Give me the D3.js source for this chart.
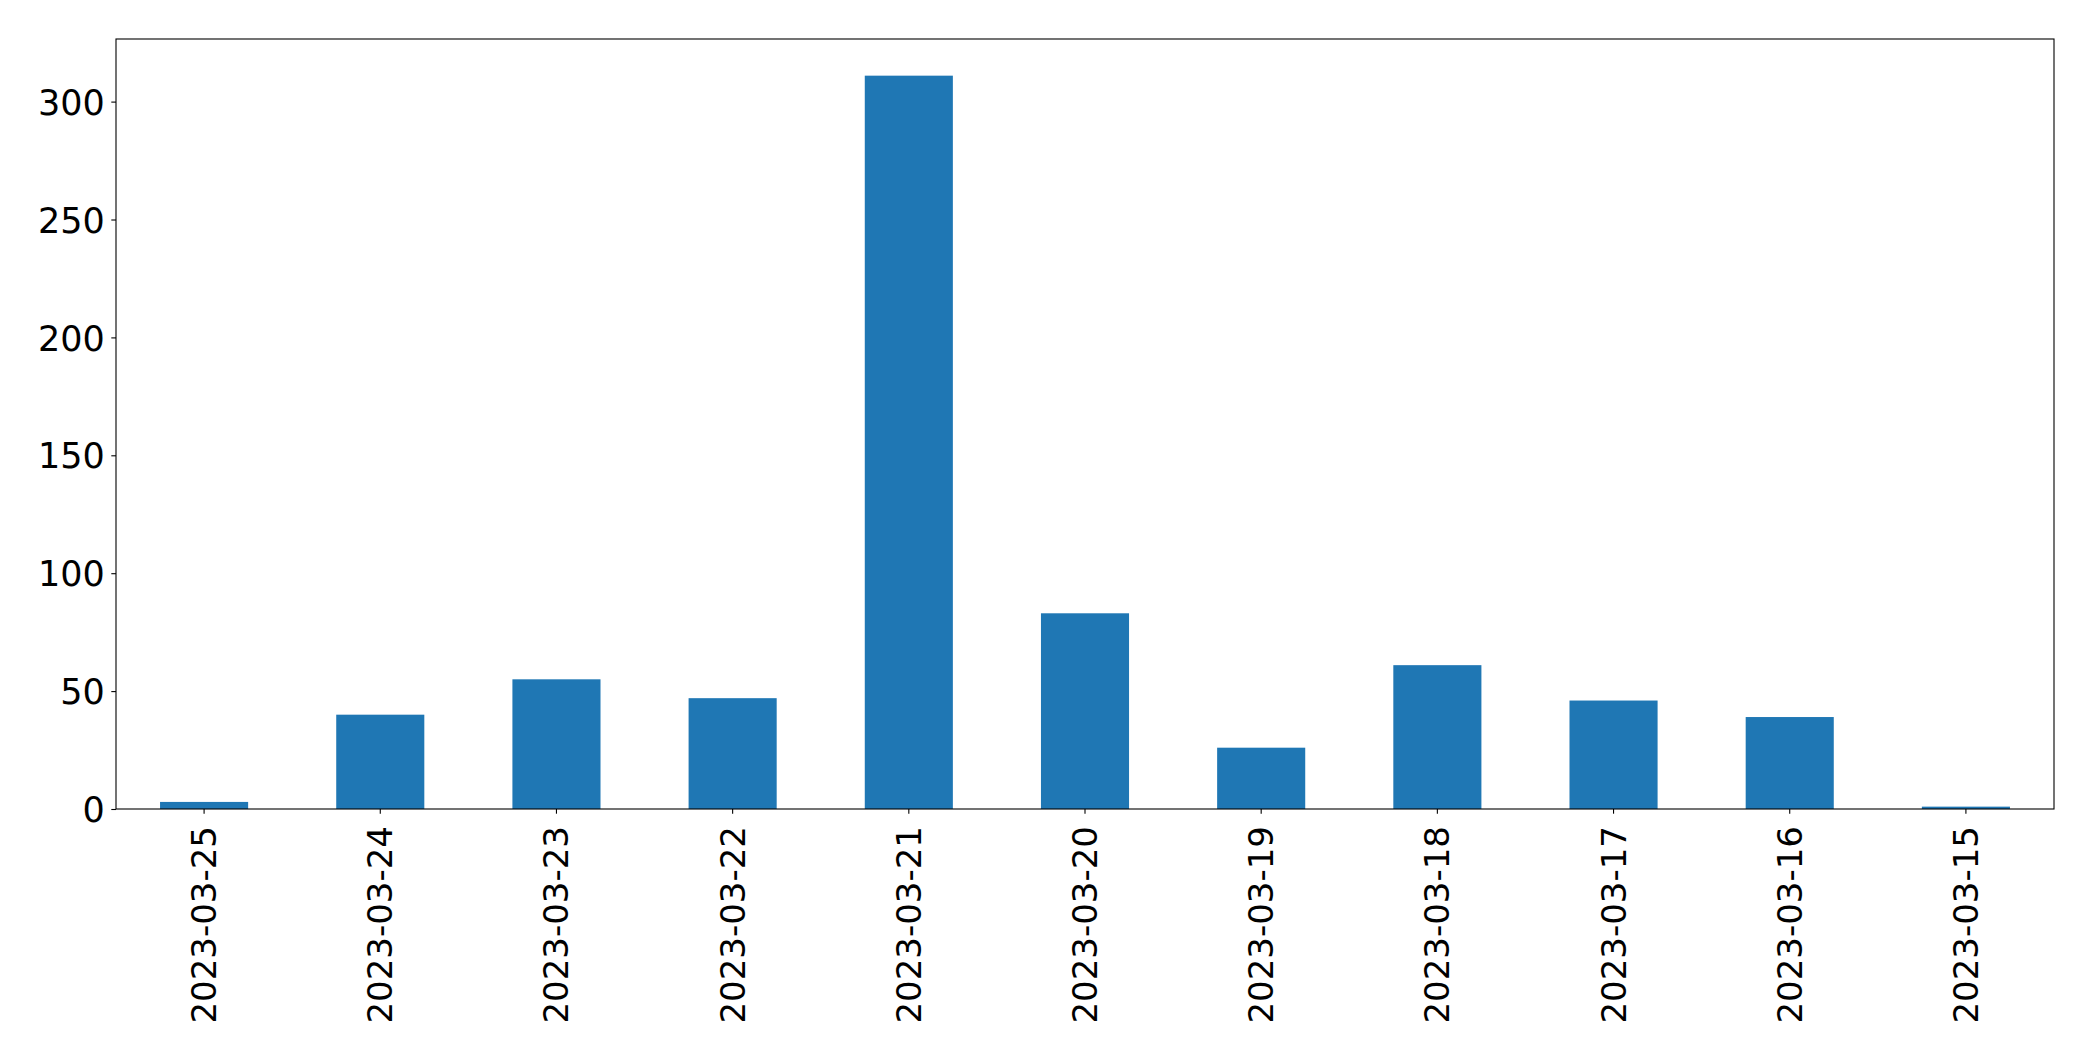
<!DOCTYPE html>
<html>
<head>
<meta charset="utf-8">
<script src="https://cdn.jsdelivr.net/npm/d3@7"></script>
<style>
  html, body { margin: 0; padding: 0; background: #fff; }
  svg { display: block; }
  text { font-family: "DejaVu Sans", sans-serif; fill: #000; }
</style>
</head>
<body>
<svg id="chart" width="2093" height="1061"></svg>
<script>
const categories = ["2023-03-25","2023-03-24","2023-03-23","2023-03-22","2023-03-21","2023-03-20","2023-03-19","2023-03-18","2023-03-17","2023-03-16","2023-03-15"];
const values = [3, 40, 55, 47, 311, 83, 26, 61, 46, 39, 1];
const yTicks = [0, 50, 100, 150, 200, 250, 300];

const svg = d3.select("#chart");
const margin = {left: 116, top: 39, right: 2093 - 2054, bottom: 1061 - 809};
const W = 2093, H = 1061;
const x0 = margin.left, x1 = W - margin.right, y0 = H - margin.bottom, y1 = margin.top;

const x = d3.scaleBand().domain(categories).range([x0, x1]).paddingInner(0.5).paddingOuter(0.25);
const ymax = d3.max(values) * 1.05;
const y = d3.scaleLinear().domain([0, ymax]).range([y0, y1]);

svg.append("g").selectAll("rect").data(values).join("rect")
  .attr("x", (d, i) => x(categories[i]))
  .attr("y", d => y(d))
  .attr("width", x.bandwidth())
  .attr("height", d => y(0) - y(d))
  .attr("fill", "#1f77b4");

// frame
svg.append("rect").attr("x", x0).attr("y", y1).attr("width", x1 - x0).attr("height", y0 - y1)
  .attr("fill", "none").attr("stroke", "#000").attr("stroke-width", 1.1);

// y axis
const yAxis = d3.axisLeft(y).tickValues(yTicks).tickSize(4.7).tickPadding(6.5).tickFormat(d3.format("d"));
const gy = svg.append("g").attr("transform", `translate(${x0},0)`).call(yAxis);
gy.select(".domain").remove();
gy.selectAll(".tick line").attr("stroke", "#000").attr("stroke-width", 1.1);
gy.selectAll(".tick text").style("font-size", "35px").style("font-family", "DejaVu Sans").attr("fill", "#000").attr("dy", "0.36em");

// x axis
const xAxis = d3.axisBottom(x).tickSize(4.7).tickPadding(8);
const gx = svg.append("g").attr("transform", `translate(0,${y0})`).call(xAxis);
gx.select(".domain").remove();
gx.selectAll(".tick line").attr("stroke", "#000").attr("stroke-width", 1.1);
gx.selectAll(".tick text")
  .style("font-size", "34px").style("font-family", "DejaVu Sans").attr("fill", "#000")
  .attr("text-anchor", "end")
  .attr("dominant-baseline", "central")
  .attr("dy", null)
  .attr("y", 0)
  .attr("transform", "translate(0,17) rotate(-90)");
</script>
</body>
</html>
